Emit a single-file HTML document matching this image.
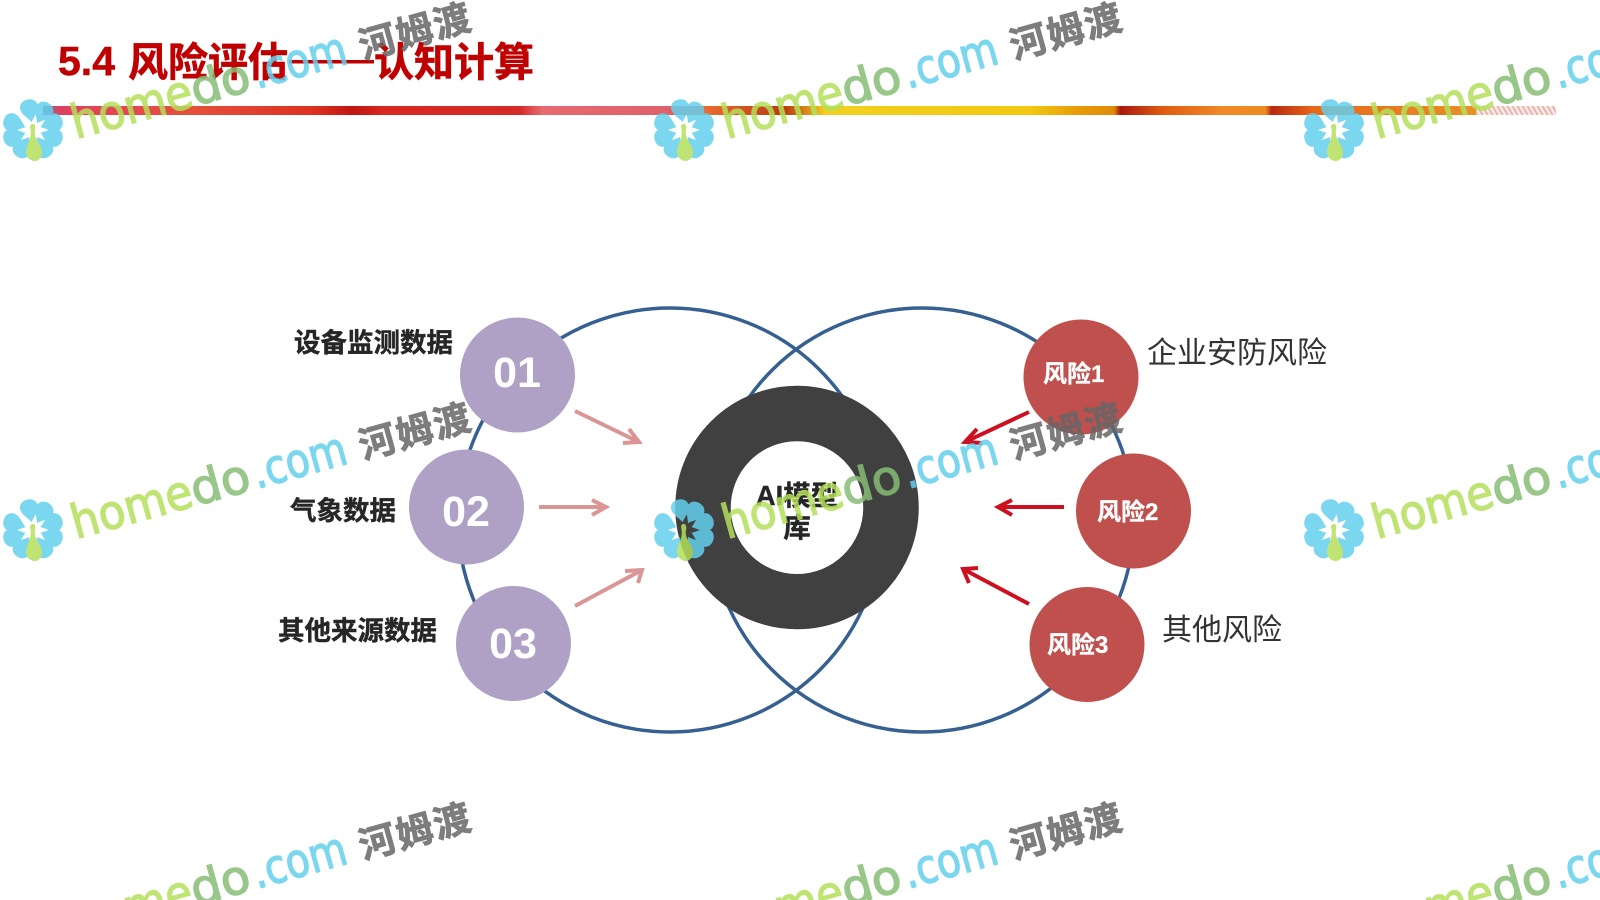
<!DOCTYPE html>
<html lang="zh">
<head>
<meta charset="utf-8">
<title>5.4 风险评估——认知计算</title>
<style>
html,body{margin:0;padding:0;background:#fff;width:1600px;height:900px;overflow:hidden}
svg{display:block}
.cn{font-family:"Liberation Sans","Noto Sans CJK SC",sans-serif}
.wm1,.wm2,.wm3{font-family:"DejaVu Sans","Liberation Sans",sans-serif;font-size:47px;stroke-width:1.4}
.wm1{fill:#b4df5c;stroke:#b4df5c}
.wm2{fill:#86bd74;stroke:#86bd74}
.wm3{fill:#62d0ec;stroke:#62d0ec}
.wm4{font-family:"Liberation Sans","Noto Sans CJK SC",sans-serif;font-size:37px;font-weight:700;fill:#666;stroke:#666;stroke-width:.8}
</style>
</head>
<body>
<svg width="1600" height="900" viewBox="0 0 1600 900" xmlns="http://www.w3.org/2000/svg">
<defs>
<linearGradient id="bar" gradientUnits="userSpaceOnUse" x1="43" y1="0" x2="1556" y2="0">
<stop offset="0" stop-color="#8a6a8a"/>
<stop offset="0.012" stop-color="#e04060"/>
<stop offset="0.1" stop-color="#e4503a"/>
<stop offset="0.18" stop-color="#dd3020"/>
<stop offset="0.205" stop-color="#c01510"/>
<stop offset="0.225" stop-color="#d82820"/>
<stop offset="0.315" stop-color="#d42a28"/>
<stop offset="0.33" stop-color="#e86a70"/>
<stop offset="0.42" stop-color="#dc6068"/>
<stop offset="0.44" stop-color="#e86a30"/>
<stop offset="0.49" stop-color="#b83a10"/>
<stop offset="0.517" stop-color="#f2cf20"/>
<stop offset="0.652" stop-color="#f2c810"/>
<stop offset="0.685" stop-color="#e89a08"/>
<stop offset="0.708" stop-color="#e08a08"/>
<stop offset="0.712" stop-color="#a81810"/>
<stop offset="0.74" stop-color="#e05a10"/>
<stop offset="0.78" stop-color="#f08a28"/>
<stop offset="0.808" stop-color="#ee8a20"/>
<stop offset="0.812" stop-color="#b82810"/>
<stop offset="0.84" stop-color="#e86818"/>
<stop offset="0.947" stop-color="#e89028"/>
<stop offset="0.948" stop-color="#ffffff"/>
<stop offset="1" stop-color="#ffffff"/>
</linearGradient>
<pattern id="hatch" patternUnits="userSpaceOnUse" width="5" height="9" patternTransform="skewX(30)">
<rect width="5" height="9" fill="#fbeeea"/>
<rect width="2.5" height="9" fill="#e8b8b0"/>
</pattern>
<symbol id="fl" overflow="visible" viewBox="-40 -40 80 80" width="80" height="80">
<g fill="#62d0ec">
<path d="M0,-8 C-3,-13 -9,-17 -9,-23 C-9,-28 -5,-31 0,-31 C5,-31 9,-28 9,-23 C9,-17 3,-13 0,-8Z" transform="rotate(-10)"/>
<path d="M0,-8 C-3,-13 -9,-17 -9,-23 C-9,-28 -5,-31 0,-31 C5,-31 9,-28 9,-23 C9,-17 3,-13 0,-8Z" transform="rotate(30)"/>
<path d="M0,-8 C-3,-13 -9,-17 -9,-23 C-9,-28 -5,-31 0,-31 C5,-31 9,-28 9,-23 C9,-17 3,-13 0,-8Z" transform="rotate(70)"/>
<path d="M0,-8 C-3,-13 -9,-17 -9,-23 C-9,-28 -5,-31 0,-31 C5,-31 9,-28 9,-23 C9,-17 3,-13 0,-8Z" transform="rotate(110)"/>
<path d="M0,-8 C-3,-13 -9,-17 -9,-23 C-9,-28 -5,-31 0,-31 C5,-31 9,-28 9,-23 C9,-17 3,-13 0,-8Z" transform="rotate(150)"/>
<path d="M0,-8 C-3,-13 -9,-17 -9,-23 C-9,-28 -5,-31 0,-31 C5,-31 9,-28 9,-23 C9,-17 3,-13 0,-8Z" transform="rotate(210)"/>
<path d="M0,-8 C-3,-13 -9,-17 -9,-23 C-9,-28 -5,-31 0,-31 C5,-31 9,-28 9,-23 C9,-17 3,-13 0,-8Z" transform="rotate(250)"/>
<path d="M0,-8 C-3,-13 -9,-17 -9,-23 C-9,-28 -5,-31 0,-31 C5,-31 9,-28 9,-23 C9,-17 3,-13 0,-8Z" transform="rotate(290)"/>
</g>
<g fill="#b4df5c">
<path d="M-3,-3 C-3,-7 2,-7 2,-4 C3,-1 1,1 2,5 C3,11 9,16 9,22 C9,28 5,31 2,31 C-3,31 -7,27 -7,22 C-7,14 0,9 -3,-3Z"/>
</g>
</symbol>
<clipPath id="pg"><rect x="0" y="0" width="1600" height="900"/></clipPath>
</defs>

<g clip-path="url(#pg)">
<!-- title -->
<text class="cn" x="58" y="75" font-size="41" font-weight="700" fill="#c00000" stroke="#c00000" stroke-width=".5">5.4</text>
<text class="cn" x="128" y="76" font-size="40" font-weight="700" fill="#c00000" stroke="#c00000" stroke-width=".6">风险评估</text>
<rect x="289" y="60" width="85" height="3.5" fill="#c00000"/>
<text class="cn" x="374" y="76" font-size="40" font-weight="700" fill="#c00000" stroke="#c00000" stroke-width=".6">认知计算</text>

<!-- bar -->
<rect x="43" y="106" width="1513" height="9" fill="url(#bar)"/>
<rect x="1477" y="106" width="79" height="9" fill="url(#hatch)"/>

<!-- venn circles -->
<circle cx="670" cy="520" r="212" fill="none" stroke="#376092" stroke-width="3.5"/>
<circle cx="922" cy="520" r="212" fill="none" stroke="#376092" stroke-width="3.5"/>

<!-- ring -->
<circle cx="797" cy="507.5" r="94" fill="none" stroke="#404040" stroke-width="55.5"/>
<circle cx="797" cy="508" r="66" fill="#fff"/>
<text class="cn" x="797" y="505" font-size="27.5" font-weight="700" fill="#262626" stroke="#262626" stroke-width=".4" text-anchor="middle">AI模型</text>
<text class="cn" x="797" y="537" font-size="27.5" font-weight="700" fill="#262626" stroke="#262626" stroke-width=".4" text-anchor="middle">库</text>

<!-- purple circles -->
<circle cx="517.5" cy="375" r="57.5" fill="#afa0c6"/>
<circle cx="466.5" cy="507" r="57.5" fill="#afa0c6"/>
<circle cx="513.5" cy="643.5" r="57.5" fill="#afa0c6"/>
<g font-family="'Liberation Sans',sans-serif" font-size="43" font-weight="700" fill="#fff" text-anchor="middle">
<text x="517" y="387">01</text>
<text x="466" y="526">02</text>
<text x="513" y="658">03</text>
</g>

<!-- red circles -->
<circle cx="1081" cy="377" r="57.5" fill="#c0504d"/>
<circle cx="1133.5" cy="511" r="57.5" fill="#c0504d"/>
<circle cx="1087" cy="644.5" r="57.5" fill="#c0504d"/>
<g class="cn" font-size="24" font-weight="700" fill="#fff" stroke="#fff" stroke-width=".3">
<text x="1043" y="382">风险1</text>
<text x="1097" y="520">风险2</text>
<text x="1047" y="653">风险3</text>
</g>

<!-- labels -->
<g class="cn" font-size="26.5" font-weight="700" fill="#262626" stroke="#262626" stroke-width=".4">
<text x="294" y="352">设备监测数据</text>
<text x="290" y="520">气象数据</text>
<text x="278" y="640">其他来源数据</text>
</g>
<g class="cn" font-size="30" fill="#333">
<text x="1147" y="363">企业安防风险</text>
<text x="1162" y="640">其他风险</text>
</g>

<!-- arrows -->
<g fill="none" stroke="#d99694" stroke-width="4">
<path d="M575,411 L639,442 M629,429 L639,442 L623,443"/>
<path d="M539,507 L606,507 M592,500 L606,507 L592,515"/>
<path d="M575,606 L642,570 M625,571 L642,570 L638,583"/>
</g>
<g fill="none" stroke="#cc1020" stroke-width="4">
<path d="M1029,412 L965,442 M977,429 L965,442 L982,443"/>
<path d="M1064,507 L998,507 M1012,500 L998,507 L1012,515"/>
<path d="M1029,604 L963,569 M978,568 L963,569 L969,583"/>
</g>

<!-- watermarks -->
<g opacity="0.85">
<g transform="translate(0,0)">
<use href="#fl" x="-7" y="90"/><g transform="translate(76,139) rotate(-15.5)"><text class="wm1" x="0" y="0" textLength="124" lengthAdjust="spacingAndGlyphs">home</text><text class="wm2" x="124" y="0" textLength="60" lengthAdjust="spacingAndGlyphs">do</text><text class="wm3" x="188" y="0" textLength="96" lengthAdjust="spacingAndGlyphs">.com</text><text class="wm4" x="298" y="0" textLength="114">河姆渡</text></g>
</g>
<g transform="translate(651,0)">
<use href="#fl" x="-7" y="90"/><g transform="translate(76,139) rotate(-15.5)"><text class="wm1" x="0" y="0" textLength="124" lengthAdjust="spacingAndGlyphs">home</text><text class="wm2" x="124" y="0" textLength="60" lengthAdjust="spacingAndGlyphs">do</text><text class="wm3" x="188" y="0" textLength="96" lengthAdjust="spacingAndGlyphs">.com</text><text class="wm4" x="298" y="0" textLength="114">河姆渡</text></g>
</g>
<g transform="translate(1301,0)">
<use href="#fl" x="-7" y="90"/><g transform="translate(76,139) rotate(-15.5)"><text class="wm1" x="0" y="0" textLength="124" lengthAdjust="spacingAndGlyphs">home</text><text class="wm2" x="124" y="0" textLength="60" lengthAdjust="spacingAndGlyphs">do</text><text class="wm3" x="188" y="0" textLength="96" lengthAdjust="spacingAndGlyphs">.com</text><text class="wm4" x="298" y="0" textLength="114">河姆渡</text></g>
</g>
<g transform="translate(0,400)">
<use href="#fl" x="-7" y="90"/><g transform="translate(76,139) rotate(-15.5)"><text class="wm1" x="0" y="0" textLength="124" lengthAdjust="spacingAndGlyphs">home</text><text class="wm2" x="124" y="0" textLength="60" lengthAdjust="spacingAndGlyphs">do</text><text class="wm3" x="188" y="0" textLength="96" lengthAdjust="spacingAndGlyphs">.com</text><text class="wm4" x="298" y="0" textLength="114">河姆渡</text></g>
</g>
<g transform="translate(651,400)">
<use href="#fl" x="-7" y="90"/><g transform="translate(76,139) rotate(-15.5)"><text class="wm1" x="0" y="0" textLength="124" lengthAdjust="spacingAndGlyphs">home</text><text class="wm2" x="124" y="0" textLength="60" lengthAdjust="spacingAndGlyphs">do</text><text class="wm3" x="188" y="0" textLength="96" lengthAdjust="spacingAndGlyphs">.com</text><text class="wm4" x="298" y="0" textLength="114">河姆渡</text></g>
</g>
<g transform="translate(1301,400)">
<use href="#fl" x="-7" y="90"/><g transform="translate(76,139) rotate(-15.5)"><text class="wm1" x="0" y="0" textLength="124" lengthAdjust="spacingAndGlyphs">home</text><text class="wm2" x="124" y="0" textLength="60" lengthAdjust="spacingAndGlyphs">do</text><text class="wm3" x="188" y="0" textLength="96" lengthAdjust="spacingAndGlyphs">.com</text><text class="wm4" x="298" y="0" textLength="114">河姆渡</text></g>
</g>
<g transform="translate(0,800)">
<g transform="translate(76,139) rotate(-15.5)"><text class="wm1" x="0" y="0" textLength="124" lengthAdjust="spacingAndGlyphs">home</text><text class="wm2" x="124" y="0" textLength="60" lengthAdjust="spacingAndGlyphs">do</text><text class="wm3" x="188" y="0" textLength="96" lengthAdjust="spacingAndGlyphs">.com</text><text class="wm4" x="298" y="0" textLength="114">河姆渡</text></g>
</g>
<g transform="translate(651,800)">
<g transform="translate(76,139) rotate(-15.5)"><text class="wm1" x="0" y="0" textLength="124" lengthAdjust="spacingAndGlyphs">home</text><text class="wm2" x="124" y="0" textLength="60" lengthAdjust="spacingAndGlyphs">do</text><text class="wm3" x="188" y="0" textLength="96" lengthAdjust="spacingAndGlyphs">.com</text><text class="wm4" x="298" y="0" textLength="114">河姆渡</text></g>
</g>
<g transform="translate(1301,800)">
<g transform="translate(76,139) rotate(-15.5)"><text class="wm1" x="0" y="0" textLength="124" lengthAdjust="spacingAndGlyphs">home</text><text class="wm2" x="124" y="0" textLength="60" lengthAdjust="spacingAndGlyphs">do</text><text class="wm3" x="188" y="0" textLength="96" lengthAdjust="spacingAndGlyphs">.com</text><text class="wm4" x="298" y="0" textLength="114">河姆渡</text></g>
</g>
</g>
</g>
</svg>
</body>
</html>
